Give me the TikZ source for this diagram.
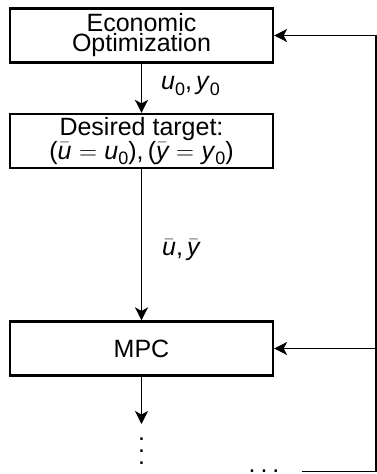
\documentclass[tikz,border=0pt]{standalone}
\usepackage{fontspec}
\setmainfont{Liberation Sans}
\usetikzlibrary{arrows.meta}
\newcommand\mysub[1]{\raisebox{-0.22em}{\fontsize{18}{18}\selectfont #1}}
\newcommand\myub{$\bar{\mbox{\itshape u}}$}
\newcommand\myyb{$\bar{\mbox{\itshape y}}$}
\newcommand\myuz{\textit{u}\mysub{0}}
\newcommand\myyz{\textit{y}\mysub{0}}
\newcommand\myeq{\hspace{0.3em}$=$\hspace{0.3em}}
\begin{document}
\begin{tikzpicture}[x=1pt,y=-1pt,
  box/.style={draw, line width=2.2pt, minimum width=263pt, minimum height=54pt,
    inner sep=0pt, align=center, font=\fontsize{25}{20}\selectfont},
  flow/.style={line width=1.8pt, -{Stealth[length=13pt,width=13pt,inset=3.5pt]}},
  lab/.style={font=\fontsize{25}{20}\selectfont, anchor=west, inner sep=0pt},
  dots/.style={font=\fontsize{25}{12}\selectfont, inner sep=0pt, align=center}]
\useasboundingbox (0,0) rectangle (377,474);
\node[box] (eco) at (141.5,35.5) {Economic\\Optimization};
\node[box] (tgt) at (141.5,141) {Desired target:\\(\myub\myeq\myuz),\,(\myyb\myeq\myyz)};
\node[box] (mpc) at (141.5,348.5) {MPC};
\node[lab] (l1) at (161,86) {\myuz,\,\myyz};
\node[lab] (l2) at (162,250) {\myub,\,\myyb};
\coordinate (out) at (141.5,424);
\node[dots, anchor=base] (vd) at (141.5,464) {.\\.\\.};
\node[dots, anchor=base] (hd) at (264,472) {.\hspace{5pt}.\hspace{5pt}.};
\coordinate (fb0) at (302,471.5);
\coordinate (fbc) at (376,471.5);
\coordinate (fbm) at (376,348.5);
\draw[flow] (eco.south) -- (tgt.north);
\draw[flow] (tgt.south) -- (mpc.north);
\draw[flow] (mpc.south) -- (out);
\draw[flow] (fb0) -- (fbc) |- (eco.east);
\draw[flow] (fbm) -- (mpc.east);
\end{tikzpicture}
\end{document}
